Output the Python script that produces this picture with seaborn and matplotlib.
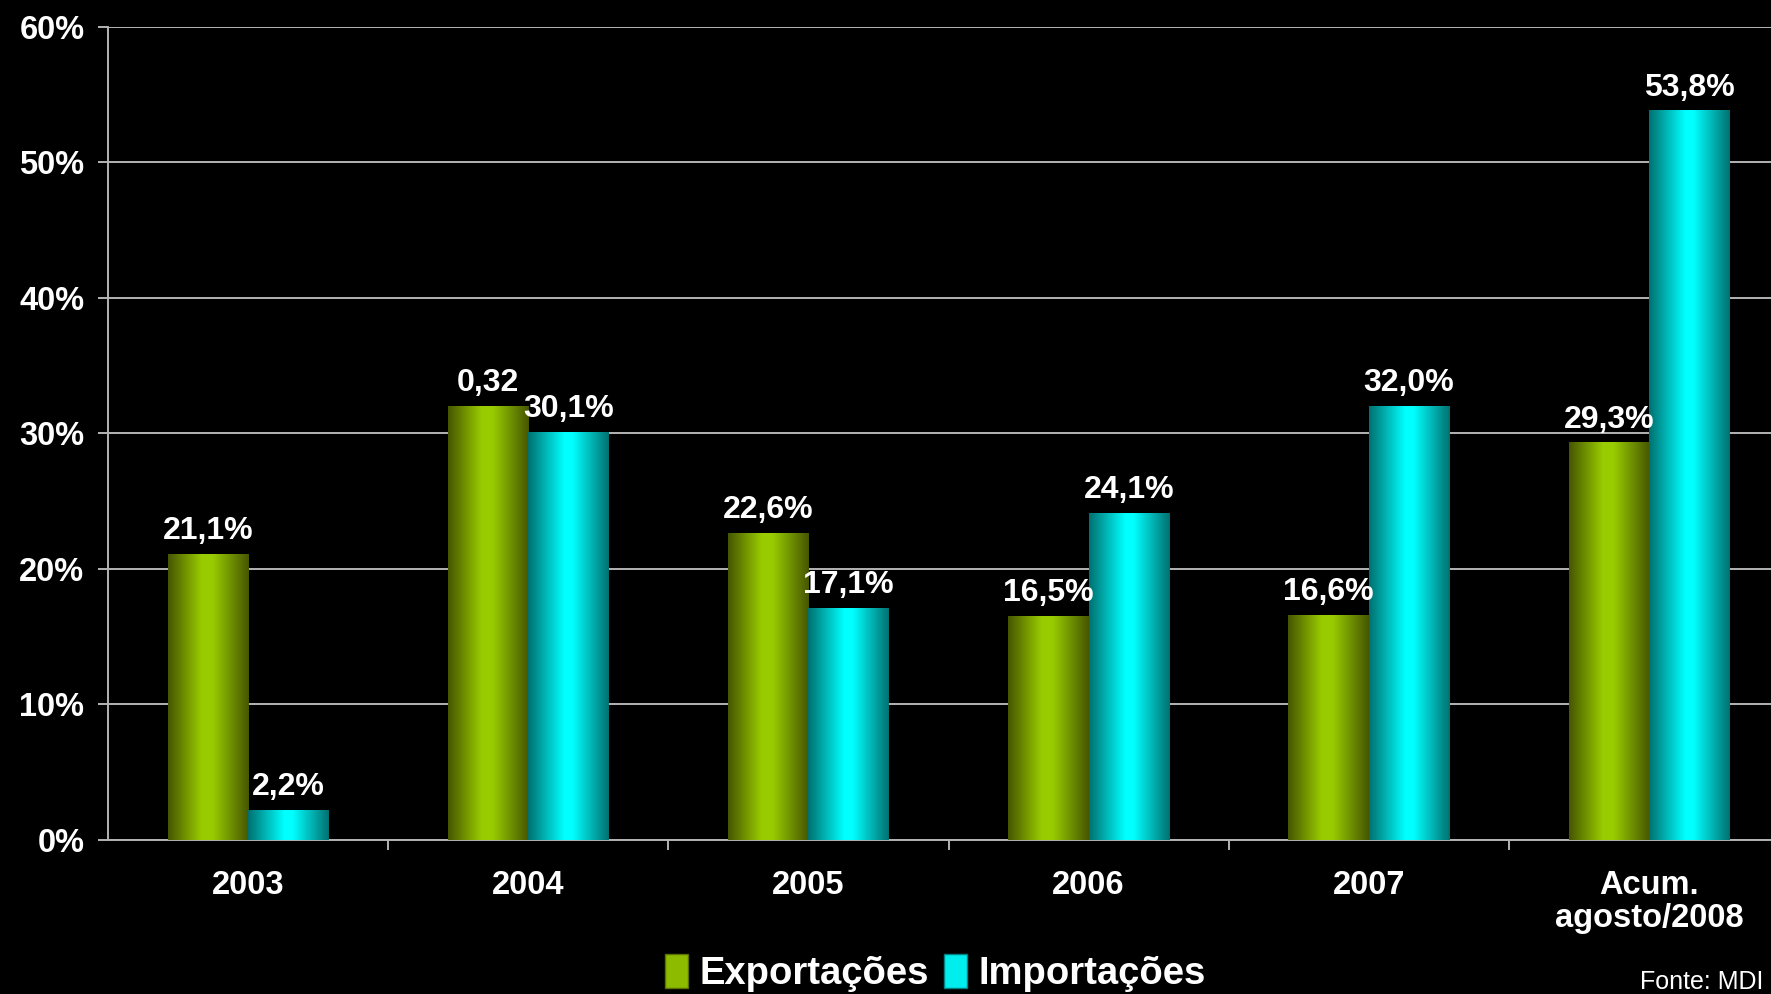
import numpy as np
import pandas as pd
import matplotlib
matplotlib.use("Agg")
import matplotlib.pyplot as plt
from matplotlib.colors import LinearSegmentedColormap
from matplotlib.patches import Patch
import seaborn as sns

# dados
categorias = ["2003", "2004", "2005", "2006", "2007", "Acum.\nagosto/2008"]
exportacoes = [21.1, 32.0, 22.6, 16.5, 16.6, 29.3]
importacoes = [2.2, 30.1, 17.1, 24.1, 32.0, 53.8]
rot_exp = ["21,1%", "0,32", "22,6%", "16,5%", "16,6%", "29,3%"]
rot_imp = ["2,2%", "30,1%", "17,1%", "24,1%", "32,0%", "53,8%"]
series = ["Exportações", "Importações"]

df = pd.DataFrame({
    "categoria": categorias * 2,
    "valor": exportacoes + importacoes,
    "serie": [series[0]] * len(categorias) + [series[1]] * len(categorias),
})

plt.rcParams["font.family"] = ["Liberation Sans", "DejaVu Sans"]
plt.rcParams["font.weight"] = "bold"

verde = LinearSegmentedColormap.from_list(
    "verde", [(0, "#465600"), (0.42, "#99cc00"), (0.55, "#99cc00"), (1, "#465600")])
ciano = LinearSegmentedColormap.from_list(
    "ciano", [(0, "#007070"), (0.45, "#00ffff"), (0.55, "#00ffff"), (1, "#007070")])

fig = plt.figure(figsize=(17.71, 9.94), dpi=100, facecolor="black")
ax = fig.add_axes([108 / 1771, 0.155, 1681 / 1771, 0.818])
ax.set_facecolor("black")

sns.barplot(data=df, x="categoria", y="valor", hue="serie", order=categorias,
            hue_order=series, palette=["#99cc00", "#00ffff"], width=0.573,
            legend=False, ax=ax, zorder=3)

# gradiente horizontal em cada barra
grad = np.linspace(0, 1, 256).reshape(1, -1)
for cont, cmap, rots in zip(ax.containers, [verde, ciano], [rot_exp, rot_imp]):
    for barra, rot in zip(cont, rots):
        x, w, h = barra.get_x(), barra.get_width(), barra.get_height()
        barra.set_facecolor("none")
        barra.set_edgecolor("none")
        ax.imshow(grad, extent=[x, x + w, 0, h], aspect="auto", cmap=cmap,
                  zorder=3, interpolation="bilinear")
        ax.annotate(rot, (x + w / 2, h), xytext=(0, 6), textcoords="offset points",
                    ha="center", va="bottom", color="white", fontsize=23,
                    fontweight="bold", zorder=5)

ax.set_xlim(-0.5, 5.5)
ax.set_ylim(0, 60)
ax.set_yticks(range(0, 61, 10))
ax.set_yticklabels([f"{v}%" for v in range(0, 61, 10)])
ax.yaxis.grid(True, color="#b4b4b4", linewidth=1.4, zorder=0)
ax.set_axisbelow(True)
ax.set_xlabel("")
ax.set_ylabel("")

for lado in ["top", "right"]:
    ax.spines[lado].set_visible(False)
for lado in ["left", "bottom"]:
    ax.spines[lado].set_color("#b4b4b4")
    ax.spines[lado].set_linewidth(1.4)

ax.tick_params(axis="y", colors="#b4b4b4", labelcolor="white", labelsize=23.5,
               length=7, width=1.4, pad=10)
ax.tick_params(axis="x", which="major", length=0, labelcolor="white",
               labelsize=23.5, pad=22)
ax.set_xticks(np.arange(0.5, 5.5, 1), minor=True)
ax.tick_params(axis="x", which="minor", length=7, width=1.4, colors="#b4b4b4")
for t in ax.get_xticklabels() + ax.get_yticklabels():
    t.set_fontweight("bold")
    t.set_linespacing(1.05)
for t in ax.get_xticklabels():
    t.set_verticalalignment("top")

handles = [Patch(facecolor="#8cbb00", edgecolor="#5a7000"),
           Patch(facecolor="#00eeee", edgecolor="#008080")]
leg = fig.legend(handles, series, loc="center", bbox_to_anchor=(0.528, 0.021),
                 ncol=2, frameon=False, handlelength=0.6, handleheight=1.0,
                 handletextpad=0.3, columnspacing=0.4,
                 prop={"size": 27.5, "weight": "bold"})
for t in leg.get_texts():
    t.set_color("white")

fig.text(0.926, 0.012, "Fonte: MDI", color="white", fontsize=18,
         fontweight="normal", ha="left", va="center")

fig.savefig("out.png", dpi=100, facecolor="black")
